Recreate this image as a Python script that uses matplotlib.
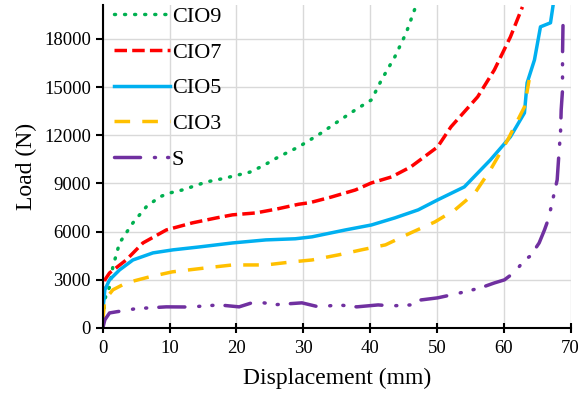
import matplotlib
matplotlib.use('Agg')
import matplotlib.pyplot as plt

plt.rcParams['font.family'] = ['Liberation Serif', 'DejaVu Serif']

# load-displacement curves
cio9_x = [0, 0.3, 1.0, 1.5, 2.5, 4.5, 6.5, 8.5, 10, 12, 15.5, 18, 20, 22, 24,
          26.3, 29.3, 32.7, 35, 37.8, 40.2, 41.7, 43.7, 45.4, 46.9]
cio9_y = [0, 1800, 2550, 3800, 5290, 6540, 7540, 8160, 8400, 8600, 9090, 9300,
          9500, 9700, 10100, 10650, 11270, 12140, 12800, 13580, 14200, 15440,
          16880, 18370, 20100]

cio7_x = [0, 0.3, 1, 3.5, 6, 9.5, 13.4, 17, 19.4, 22.9, 26, 29.3, 31, 34.2,
          37.8, 40.2, 43.2, 46.1, 50.1, 52.1, 56.1, 58.6, 61, 62.8]
cio7_y = [1800, 2990, 3420, 4230, 5290, 6100, 6540, 6850, 7040, 7160, 7400,
          7700, 7800, 8150, 8590, 9030, 9400, 10030, 11270, 12520, 14390,
          16070, 18120, 19990]

cio5_x = [0, 0.1, 0.3, 1, 2.5, 4.5, 7.5, 10.5, 14.4, 19.4, 24.4, 28.8, 31.3,
          36.3, 40.2, 43.7, 47.2, 50.1, 54.1, 58, 61, 63.1, 63.5, 64.6, 65.5,
          67, 67.5]
cio5_y = [0, 1500, 2370, 2990, 3610, 4230, 4670, 4860, 5040, 5290, 5480, 5550,
          5670, 6100, 6410, 6850, 7350, 7970, 8780, 10460, 11900, 13390, 15260,
          16690, 18750, 19000, 20400]

cio3_x = [0, 0.3, 1.5, 3.5, 7, 10.4, 15.5, 19.4, 24.4, 28.3, 31.3, 35.3, 38.7,
          42.3, 46.1, 49.7, 52.7, 55.7, 58, 60.6, 63.1, 63.8]
cio3_y = [500, 1740, 2370, 2800, 3180, 3490, 3740, 3920, 3920, 4110, 4230, 4550,
          4860, 5170, 5920, 6600, 7350, 8410, 9840, 11710, 13760, 15440]

s_x = [0, 0.3, 1, 2, 5, 9.5, 13, 17.4, 20.4, 22.3, 23, 26, 29.8, 32.3, 35.3,
       38, 41.2, 43.2, 46.1, 47.6, 50.1, 52.1, 54.1, 56.5, 58.6, 60.1, 61.7,
       63.1, 64, 65.3, 66.1, 66.8, 67, 68, 68.3, 68.5, 68.6, 68.8, 68.8, 68.9]
s_y = [0, 500, 930, 1000, 1200, 1310, 1300, 1430, 1310, 1560, 1620, 1450, 1560,
       1310, 1430, 1310, 1430, 1370, 1430, 1740, 1870, 2050, 2240, 2490, 2800,
       2990, 3490, 4230, 4480, 5290, 6100, 6910, 7350, 9220, 11090, 12140,
       13580, 14820, 17000, 19600]

fig = plt.figure(figsize=(5.81, 3.96), dpi=100)
ax = fig.add_axes([0.177, 0.172, 0.805, 0.815])

lw = 2.5
ax.plot(cio9_x, cio9_y, color='#00B050', lw=lw, linestyle=(0, (0.3, 2.6)),
        dash_capstyle='round', label='CIO9')
ax.plot(cio7_x, cio7_y, color='#FF0000', lw=lw, linestyle=(0, (3.6, 1.5)),
        label='CIO7')
ax.plot(cio5_x, cio5_y, color='#00B0F0', lw=lw, linestyle='-', label='CIO5')
ax.plot(cio3_x, cio3_y, color='#FFC000', lw=lw, linestyle=(0, (4.5, 3.5)),
        label='CIO3')
ax.plot(s_x, s_y, color='#7030A0', lw=lw,
        linestyle=(0, (7.5, 4, 0.3, 3.5, 0.3, 3.5)), dash_capstyle='round',
        label='S')

ax.set_xlim(0, 70)
ax.set_ylim(0, 20100)
ax.set_xticks(range(0, 71, 10))
ax.set_yticks(range(0, 18001, 3000))
ax.grid(True, color='#D9D9D9', lw=1)
ax.set_axisbelow(True)
for side in ['top', 'right']:
    ax.spines[side].set_visible(False)
ax.spines['left'].set_linewidth(1.5)
ax.spines['bottom'].set_linewidth(1.5)
ax.tick_params(axis='x', direction='inout', length=7, width=1.5, labelsize=13.5, pad=5)
ax.tick_params(axis='y', direction='out', length=5, width=1.5, labelsize=13.5)

ax.set_xlabel('Displacement (mm)', fontsize=17, labelpad=8)
ax.set_ylabel('Load (N)', fontsize=17, labelpad=5)

ax.legend(loc='upper left', frameon=False, fontsize=16, handlelength=2.5,
          handletextpad=0.1, labelspacing=0.68, borderaxespad=0.1,
          bbox_to_anchor=(0.0, 1.03))

fig.savefig('out.png', dpi=100)
